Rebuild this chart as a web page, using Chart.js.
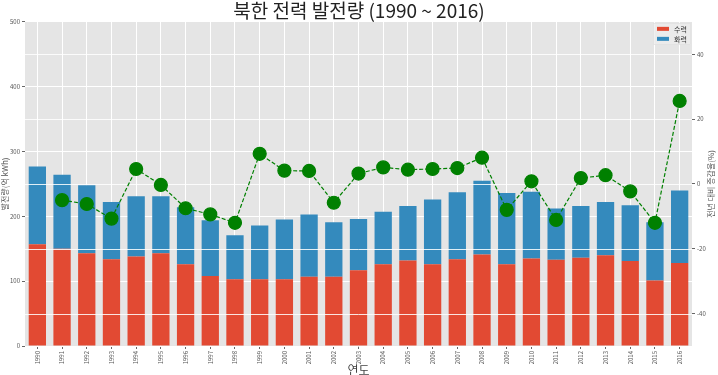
<!DOCTYPE html>
<html>
<head>
<meta charset="utf-8">
<script src="https://cdn.jsdelivr.net/npm/chart.js@4/dist/chart.umd.min.js"></script>
<style>
html,body{margin:0;padding:0;background:#fff;}
canvas{display:block;}
</style>
</head>
<body>
<canvas id="c" width="718" height="375"></canvas>
<script>
const years = ['1990','1991','1992','1993','1994','1995','1996','1997','1998','1999','2000','2001','2002','2003','2004','2005','2006','2007','2008','2009','2010','2011','2012','2013','2014','2015','2016'];
const hydro = [157,150,143,134,138,143,126,108,103,103,103,107,107,117,126,132,126,134,141,126,135,133,136,140,131,101,128];
const thermal = [120,114,105,88,93,88,88,86,68,83,92,96,84,79,81,84,100,103,114,110,103,79,80,82,86,90,112];
const growth = [null,-5.0,-6.2,-10.7,4.6,-0.3,-7.5,-9.4,-12.0,9.3,4.1,4.0,-5.8,3.2,5.1,4.4,4.6,4.9,8.1,-8.0,0.8,-11.1,1.8,2.7,-2.3,-12.0,25.6];
const leftTicks = [0,100,200,300,400,500];
const rightTicks = [-40,-20,0,20,40];
const seriesNames = ['수력','화력'];
const seriesColors = ['#E24A33','#348ABD'];

const FONT = "'Noto Sans CJK KR','Noto Sans',sans-serif";
const TICK = {size:6, family:FONT};

const bgPlugin = {
  id:'bg',
  beforeDraw(chart){
    const {ctx, chartArea:a} = chart;
    ctx.save();
    ctx.fillStyle = '#E5E5E5';
    ctx.fillRect(a.left, a.top, a.right-a.left, a.bottom-a.top);
    ctx.restore();
  },
  beforeDatasetDraw(chart, args){
    if (args.index !== 2) return;
    const {ctx, chartArea:a} = chart;
    const s = chart.scales.y1;
    ctx.save();
    ctx.strokeStyle = 'rgba(255,255,255,0.85)';
    ctx.lineWidth = 1;
    rightTicks.forEach(v=>{
      const y = Math.round(s.getPixelForValue(v))+0.5;
      ctx.beginPath(); ctx.moveTo(a.left,y); ctx.lineTo(a.right,y); ctx.stroke();
    });
    ctx.restore();
  },
  afterDraw(chart){
    const {ctx, chartArea:a} = chart;
    const xs = chart.scales.x;
    ctx.save();
    ctx.fillStyle = '#555';
    ctx.font = "6px " + FONT;
    ctx.textAlign = 'right';
    ctx.textBaseline = 'middle';
    years.forEach((lab,i)=>{
      const x = xs.getPixelForValue(i);
      ctx.save();
      ctx.translate(x, a.bottom+5);
      ctx.rotate(-Math.PI/2);
      ctx.fillText(lab, 0, 0);
      ctx.restore();
    });
    ctx.save();
    ctx.fillStyle = '#555';
    ctx.font = "8px " + FONT;
    ctx.textAlign = 'center';
    ctx.textBaseline = 'middle';
    ctx.translate(711, (a.top+a.bottom)/2);
    ctx.rotate(-Math.PI/2);
    ctx.fillText('전년 대비 증감율(%)', 0, 0);
    ctx.restore();
    const lx = a.right - 39, ly = a.top + 1, lw = 38, lh = 22;
    ctx.fillStyle = 'rgba(236,236,236,0.8)';
    ctx.fillRect(lx, ly, lw, lh);
    ctx.strokeStyle = 'rgba(215,215,215,0.8)';
    ctx.lineWidth = 0.5;
    ctx.strokeRect(lx+0.5, ly+0.5, lw-1, lh-1);
    ctx.font = "7px " + FONT;
    ctx.textAlign = 'left';
    ctx.textBaseline = 'middle';
    seriesNames.forEach((n,i)=>{
      const cy = ly + 6 + i*10;
      ctx.fillStyle = seriesColors[i];
      ctx.fillRect(lx+4, cy-2, 12, 4);
      ctx.fillStyle = '#333';
      ctx.fillText(n, lx+21, cy);
    });
    ctx.restore();
  }
};

new Chart(document.getElementById('c'), {
  data: {
    labels: years,
    datasets: [
      {type:'bar', label:seriesNames[0], data:hydro, backgroundColor:seriesColors[0], yAxisID:'y', order:1, barPercentage:0.7, categoryPercentage:1.0, stack:'s'},
      {type:'bar', label:seriesNames[1], data:thermal, backgroundColor:seriesColors[1], yAxisID:'y', order:1, barPercentage:0.7, categoryPercentage:1.0, stack:'s'},
      {type:'line', label:'증감율', data:growth, yAxisID:'y1', order:0, borderColor:'#008000', borderWidth:1.2, borderDash:[4,2], pointRadius:6.5, pointBackgroundColor:'#008000', pointBorderColor:'#008000', pointHoverRadius:6.5, fill:false, tension:0}
    ]
  },
  options: {
    responsive:false,
    animation:false,
    layout:{padding:0},
    plugins:{
      legend:{display:false},
      tooltip:{enabled:false},
      title:{display:true, text:'북한 전력 발전량 (1990 ~ 2016)', color:'#222', font:{size:19, family:FONT, weight:'normal', lineHeight:1.15}, padding:{top:0,bottom:0}}
    },
    scales:{
      x:{
        stacked:true, offset:true,
        grid:{color:'#fff', offset:false, drawTicks:true, tickLength:3, tickColor:'#666'},
        border:{display:false},
        ticks:{display:false},
        title:{display:true, text:'연도', color:'#444', font:{size:12, family:FONT, lineHeight:0.8}, padding:0},
        afterFit(s){ s.height = 29; }
      },
      y:{
        stacked:true, position:'left', min:0, max:500,
        afterBuildTicks(s){ s.ticks = leftTicks.map(v=>({value:v})); },
        grid:{color:'#fff', tickLength:3, tickColor:'#666'},
        border:{display:false},
        ticks:{font:TICK, color:'#555', padding:2},
        title:{display:true, text:'발전량(억 kWh)', color:'#555', font:{size:8, family:FONT}, padding:0},
        afterFit(s){ s.width = 25; }
      },
      y1:{
        position:'right', min:-50, max:50,
        afterBuildTicks(s){ s.ticks = rightTicks.map(v=>({value:v})); },
        grid:{drawOnChartArea:false, tickLength:3, tickColor:'#666'},
        border:{display:false},
        ticks:{font:TICK, color:'#555', padding:2},
        afterFit(s){ s.width = 26; }
      }
    }
  },
  plugins:[bgPlugin]
});
</script>
</body>
</html>
